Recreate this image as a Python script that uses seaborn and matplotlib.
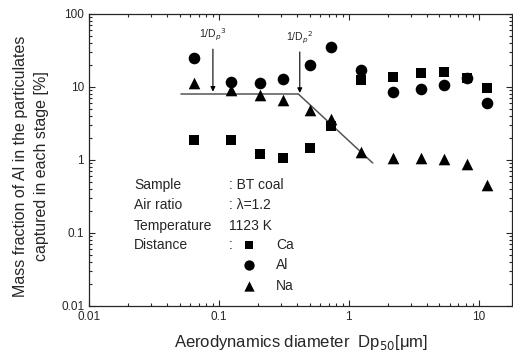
import numpy as np
import pandas as pd
import matplotlib
matplotlib.use("Agg")
import matplotlib.pyplot as plt
import seaborn as sns

# stage diameters [um]
dp = [0.064, 0.124, 0.207, 0.31, 0.50, 0.73, 1.24, 2.18, 3.58, 5.38, 8.09, 11.7]

# mass fractions per stage [%]
ca = [1.88, 1.88, 1.21, 1.06, 1.46, 2.9, 12.5, 13.7, 15.6, 16.0, 13.3, 9.7]
al = [25, 11.7, 11.3, 12.9, 20, 35, 17, 8.5, 9.4, 10.6, 13.3, 6.0]
na = [11.3, 9.1, 7.8, 6.6, 4.8, 3.6, 1.29, 1.07, 1.07, 1.03, 0.88, 0.45]

# fitted guide lines
flat_x = [0.051, 0.41]
flat_y = [8.0, 8.0]
slope_x = [0.41, 1.53]
slope_y = [8.0, 0.91]

df = pd.concat([
    pd.DataFrame({"dp": dp, "frac": ca, "element": "Ca"}),
    pd.DataFrame({"dp": dp, "frac": al, "element": "Al"}),
    pd.DataFrame({"dp": dp, "frac": na, "element": "Na"}),
])

sns.set_style("ticks")
plt.rcParams['font.family'] = ['Liberation Sans', 'DejaVu Sans']

fig = plt.figure(figsize=(5.13, 3.58), dpi=100)
ax = fig.add_axes([0.1735, 0.1453, 0.824, 0.8156])

ax.plot(flat_x, flat_y, color="#555555", lw=1.1, zorder=1)
ax.plot(slope_x, slope_y, color="#555555", lw=1.1, zorder=1)

markers = {"Ca": "s", "Al": "o", "Na": "^"}
sizes = {"Ca": 45, "Al": 70, "Na": 70}
for el in ["Ca", "Al", "Na"]:
    sns.scatterplot(data=df[df.element == el], x="dp", y="frac", marker=markers[el],
                    s=sizes[el], color="black", edgecolor="black", linewidth=0,
                    ax=ax, legend=False, zorder=3)

ax.set_xscale("log")
ax.set_yscale("log")
ax.set_xlim(0.01, 18)
ax.set_ylim(0.01, 100)
ax.set_xticks([0.01, 0.1, 1, 10])
ax.set_xticklabels(["0.01", "0.1", "1", "10"])
ax.set_yticks([0.01, 0.1, 1, 10, 100])
ax.set_yticklabels(["0.01", "0.1", "1", "10", "100"])
ax.tick_params(which="both", direction="in", top=True, right=True, labelsize=8.5,
               width=0.8)
ax.tick_params(which="major", length=4)
ax.tick_params(which="minor", length=2)
for s in ax.spines.values():
    s.set_linewidth(0.9)

ax.set_xlabel("")
ax.set_ylabel("")
fig.text(301 / 513, 1 - 343 / 358, "Aerodynamics diameter  Dp$_{50}$[\u03bcm]",
         fontsize=12, ha="center", va="center")
fig.text(31 / 513, 1 - 166 / 358,
         "Mass fraction of Al in the particulates\ncaptured in each stage [%]",
         fontsize=11.5, ha="center", va="center", rotation=90, linespacing=1.45)

# arrows for slopes
ax.annotate("", xy=(0.09, 7.9), xytext=(0.09, 36),
            arrowprops=dict(arrowstyle="-|>", color="black", lw=0.8, mutation_scale=7))
ax.text(0.09, 40, r"1/D$_p$$^3$", fontsize=7.5, ha="center", va="bottom")
ax.annotate("", xy=(0.42, 7.6), xytext=(0.42, 33),
            arrowprops=dict(arrowstyle="-|>", color="black", lw=0.8, mutation_scale=7))
ax.text(0.42, 37, r"1/D$_p$$^2$", fontsize=7.5, ha="center", va="bottom")

# condition block
rows = [("Sample", ": BT coal"), ("Air ratio", ": \u03bb=1.2"), ("Temperature", "1123 K"),
        ("Distance", ":")]
ys = [10 ** ((160 - y) / 73) for y in [185, 205, 226, 245]]
for (k, v), yy in zip(rows, ys):
    ax.text(0.0222, yy, k, fontsize=10, va="center")
    ax.text(0.119, yy, v, fontsize=10, va="center")
leg = [("s", "Ca", 245, 40), ("o", "Al", 265, 55), ("^", "Na", 286, 55)]
for m, lab, py, sz in leg:
    yy = 10 ** ((160 - py) / 73)
    ax.scatter([0.17], [yy], marker=m, s=sz, color="black", linewidths=0)
    ax.text(0.275, yy, lab, fontsize=10, va="center")

fig.savefig("out.png", dpi=100)
